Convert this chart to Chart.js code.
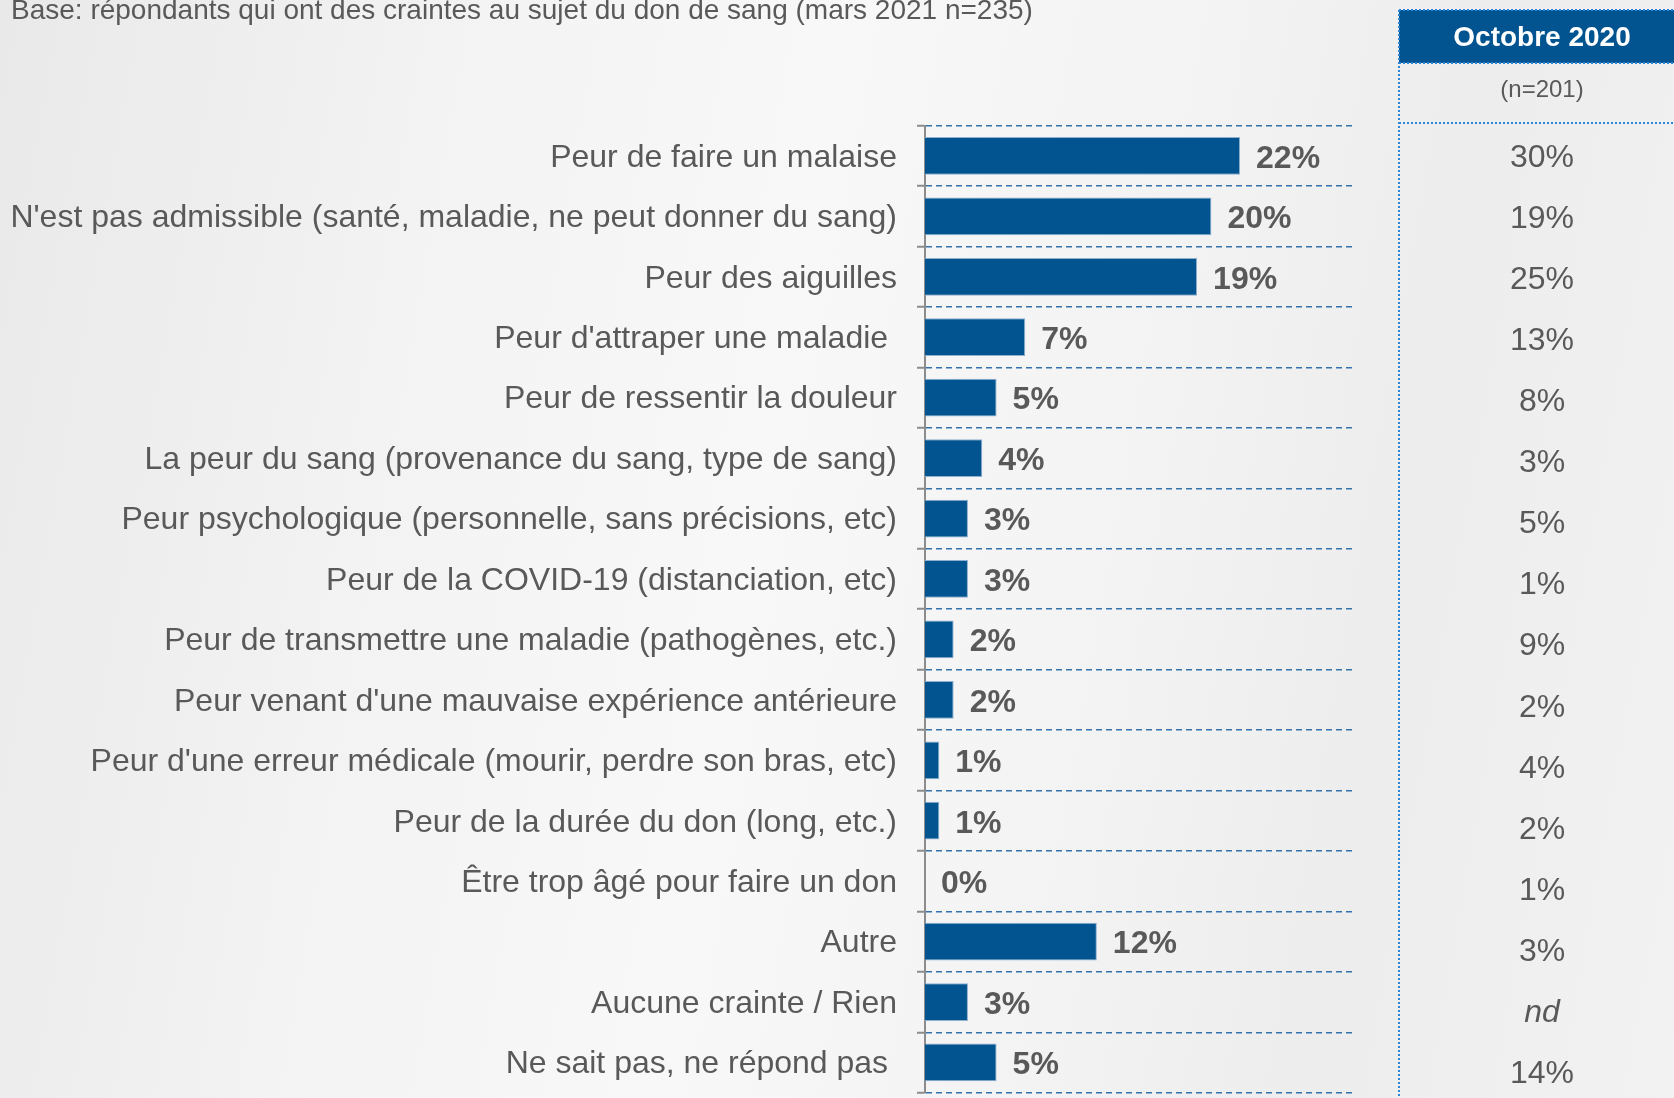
<!DOCTYPE html>
<html>
<head>
<meta charset="utf-8">
<script src="https://cdn.jsdelivr.net/npm/chart.js@4/dist/chart.umd.min.js"></script>
<style>
html,body{margin:0;padding:0;}
body{width:1674px;height:1098px;overflow:hidden;
background:linear-gradient(100deg,#e9e9e9 0%,#f3f3f3 25%,#f8f8f8 45%,#f3f3f4 65%,#ededee 80%,#f2f2f2 100%);}
#wrap{position:absolute;left:0;top:0;width:1674px;height:1098px;}
</style>
</head>
<body>
<div id="wrap"><canvas id="c" width="1674" height="1098"></canvas></div>
<script>
const titleText = "Base: répondants qui ont des craintes au sujet du don de sang (mars 2021 n=235)";
const categories = [
  "Peur de faire un malaise",
  "N'est pas admissible (santé, maladie, ne peut donner du sang)",
  "Peur des aiguilles",
  "Peur d'attraper une maladie ",
  "Peur de ressentir la douleur",
  "La peur du sang (provenance du sang, type de sang)",
  "Peur psychologique (personnelle, sans précisions, etc)",
  "Peur de la COVID-19 (distanciation, etc)",
  "Peur de transmettre une maladie (pathogènes, etc.)",
  "Peur venant d'une mauvaise expérience antérieure",
  "Peur d'une erreur médicale (mourir, perdre son bras, etc)",
  "Peur de la durée du don (long, etc.)",
  "Être trop âgé pour faire un don",
  "Autre",
  "Aucune crainte / Rien",
  "Ne sait pas, ne répond pas "
];
const mars2021 = [22, 20, 19, 7, 5, 4, 3, 3, 2, 2, 1, 1, 0, 12, 3, 5];
const octobreHeader = "Octobre 2020";
const octobreBase = "(n=201)";
const octobre2020 = ["30%", "19%", "25%", "13%", "8%", "3%", "5%", "1%", "9%", "2%", "4%", "2%", "1%", "3%", "nd", "14%"];

const GREY = '#595959';
const BLUE = '#01548f';
const FF = '"Liberation Sans", Arial, sans-serif';

const valueLabels = {
  id: 'valueLabels',
  afterDatasetsDraw(chart) {
    const ctx = chart.ctx;
    const meta = chart.getDatasetMeta(0);
    ctx.save();
    ctx.font = 'bold 32px ' + FF;
    ctx.fillStyle = GREY;
    ctx.textAlign = 'left';
    ctx.textBaseline = 'middle';
    meta.data.forEach((el, i) => {
      ctx.fillText(mars2021[i] + '%', el.x + 16, el.y + 3);
    });
    ctx.restore();
  }
};

const sidePanel = {
  id: 'sidePanel',
  afterDraw(chart) {
    const ctx = chart.ctx;
    const y = chart.scales.y;
    ctx.save();
    ctx.font = '28px ' + FF;
    ctx.fillStyle = GREY;
    ctx.textAlign = 'left';
    ctx.textBaseline = 'alphabetic';
    ctx.fillText(titleText, 11, 19);

    const px = 1399, cx = 1542;
    ctx.fillStyle = '#01548f';
    ctx.fillRect(px, 10, 1674 - px, 53);
    ctx.strokeStyle = '#2a86d6';
    ctx.lineWidth = 2;
    ctx.setLineDash([2, 2]);
    ctx.beginPath();
    ctx.moveTo(px, 10); ctx.lineTo(1674, 10);
    ctx.moveTo(px, 63); ctx.lineTo(1674, 63);
    ctx.moveTo(px, 10); ctx.lineTo(px, 1098);
    ctx.moveTo(px, 123); ctx.lineTo(1674, 123);
    ctx.stroke();
    ctx.setLineDash([]);
    ctx.fillStyle = '#ffffff';
    ctx.font = 'bold 28px ' + FF;
    ctx.textAlign = 'center';
    ctx.textBaseline = 'middle';
    ctx.fillText(octobreHeader, cx, 38);
    ctx.fillStyle = GREY;
    ctx.font = '24px ' + FF;
    ctx.fillText(octobreBase, cx, 90);
    octobre2020.forEach((v, i) => {
      const yy = y.getPixelForValue(i) + i * 0.65 + 2;
      ctx.font = (v === 'nd' ? 'italic ' : '') + '32px ' + FF;
      ctx.fillText(v, cx, yy);
    });
    ctx.restore();
  }
};

new Chart(document.getElementById('c'), {
  type: 'bar',
  data: {
    labels: categories,
    datasets: [{
      data: mars2021,
      backgroundColor: BLUE,
      borderColor: '#8fb0cf',
      borderWidth: 1,
      borderSkipped: 'left',
      categoryPercentage: 1,
      barPercentage: 0.625
    }]
  },
  options: {
    indexAxis: 'y',
    responsive: false,
    animation: false,
    layout: { padding: { left: 0, right: 319.4, top: 125.7, bottom: 5.3 } },
    plugins: { legend: { display: false }, tooltip: { enabled: false } },
    scales: {
      x: { display: false, min: 0, max: 30 },
      y: {
        afterFit(scale) { scale.width = 925; scale.paddingTop = 0; scale.paddingBottom = 0; },
        ticks: {
          color: GREY,
          font: { family: FF, size: 32 },
          padding: 20,
          labelOffset: 2,
          autoSkip: false
        },
        grid: {
          offset: true,
          color: '#3572ad',
          lineWidth: 1.5,
          tickColor: '#8c8c8c',
          tickWidth: 2,
          tickLength: 8
        },
        border: { display: true, color: '#8c8c8c', width: 2, dash: [6, 4] }
      }
    }
  },
  plugins: [valueLabels, sidePanel]
});
</script>
</body>
</html>
